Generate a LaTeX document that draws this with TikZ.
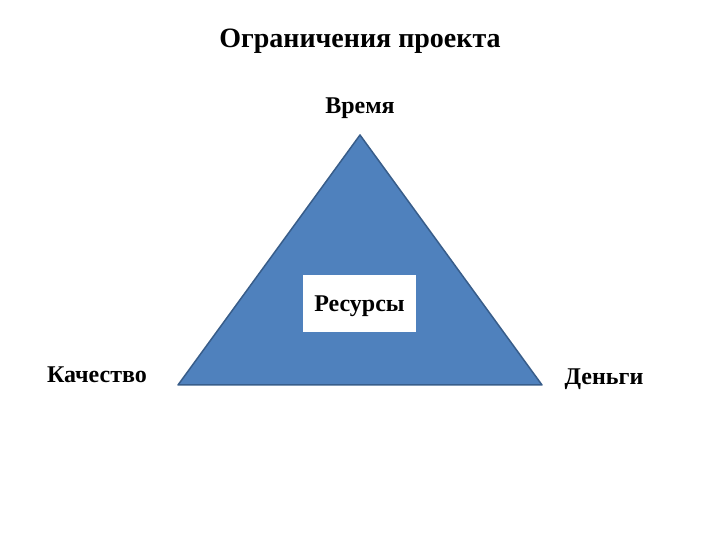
\documentclass[tikz,border=0pt]{standalone}
\usepackage{fontspec}
\setmainfont{Liberation Serif}
\usepackage{tikz}
\definecolor{triblue}{HTML}{4F81BD}
\definecolor{triedge}{HTML}{385D8A}

\begin{document}
\begin{tikzpicture}[x=1pt, y=1pt,
		label_style/.style={font=\bfseries\fontsize{24}{28}\selectfont, inner sep=0pt},
		title_style/.style={font=\bfseries\fontsize{28}{32}\selectfont, inner sep=0pt},
		box_style/.style={draw=none, fill=white, minimum width=113pt, minimum height=57pt, font=\bfseries\fontsize{24}{28}\selectfont},
		tri_style/.style={draw=triedge, fill=triblue, line width=1.5pt, line join=round}]

	\useasboundingbox (0,0) rectangle (720,540);

	\coordinate (top) at (360,405);
	\coordinate (left) at (178,155);
	\coordinate (right) at (542,155);

	\draw[tri_style] (top) -- (right) -- (left) -- cycle;

	\node[title_style] (title) at (360,499) {Ограничения проекта};
	\node[label_style] (time) at (360,432) {Время};
	\node[box_style] (res) at (359.5,236.5) {};
	\node[label_style] (res_text) at (359.5,234) {Ресурсы};
	\node[label_style] (quality) at (97,165) {Качество};
	\node[label_style] (money) at (604,161) {Деньги};
\end{tikzpicture}
\end{document}
